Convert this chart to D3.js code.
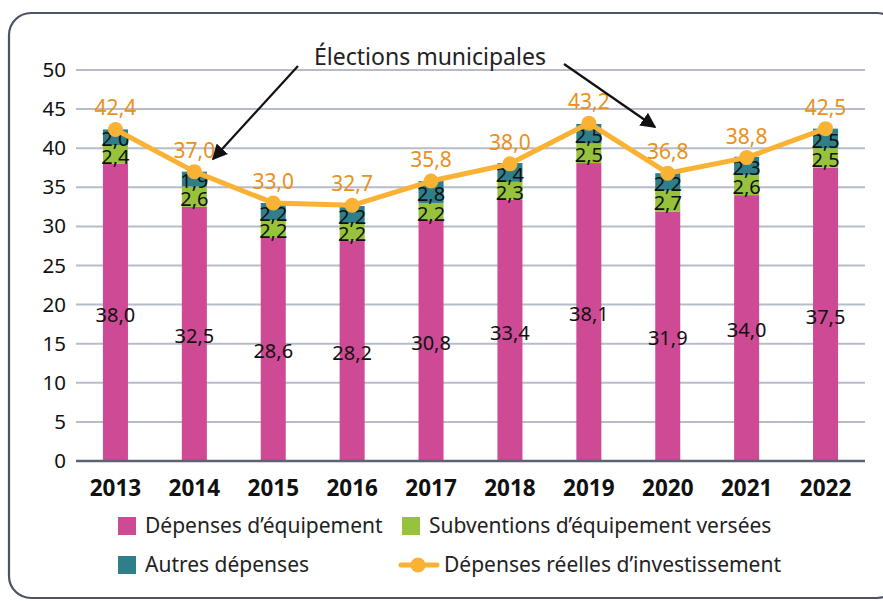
<!DOCTYPE html>
<html>
<head>
<meta charset="utf-8">
<script src="https://cdn.jsdelivr.net/npm/d3@7"></script>
<style>
  body { margin: 0; background: #fff; }
  svg text { font-family: "Noto Sans", "Open Sans", sans-serif; }
</style>
</head>
<body>
<div id="chart"></div>
<script>
'use strict';

var years = ['2013', '2014', '2015', '2016', '2017', '2018', '2019', '2020', '2021', '2022']
var equipement = [38.0, 32.5, 28.6, 28.2, 30.8, 33.4, 38.1, 31.9, 34.0, 37.5]
var subventions = [2.4, 2.6, 2.2, 2.2, 2.2, 2.3, 2.5, 2.7, 2.6, 2.5]
var autres = [2.0, 1.9, 2.2, 2.2, 2.8, 2.4, 2.5, 2.2, 2.3, 2.5]
var totals = [42.4, 37.0, 33.0, 32.7, 35.8, 38.0, 43.2, 36.8, 38.8, 42.5]
var yTicks = [0, 5, 10, 15, 20, 25, 30, 35, 40, 45, 50]
var seriesNames = ['Dépenses d’équipement', 'Subventions d’équipement versées', 'Autres dépenses', 'Dépenses réelles d’investissement']
var annotation = 'Élections municipales'

var colors = { equip: '#cf4a94', subv: '#97c23c', autres: '#2e7f8a', line: '#f9b233', total: '#ea901c' }

var W = 883, H = 601
var svg = d3.select('#chart').append('svg').attr('width', W).attr('height', H)

// frame
svg.append('rect')
  .attr('x', 9).attr('y', 13).attr('width', 890).attr('height', 585)
  .attr('rx', 22).attr('ry', 22)
  .style('fill', 'none').style('stroke', '#4b5462').style('stroke-width', 2.2)

var x = d3.scaleBand().domain(years).range([76, 865]).paddingInner(0.683).paddingOuter(0.3415)
var y = d3.scaleLinear().domain([0, 50]).range([461, 70])
var fmt = function(v) { return d3.format('.1f')(v).replace('.', ',') }

// grid
svg.append('g').selectAll('line')
  .data(yTicks.filter(function(d) { return d > 0 }))
  .enter().append('line')
  .attr('x1', 76).attr('x2', 865)
  .attr('y1', function(d) { return y(d) }).attr('y2', function(d) { return y(d) })
  .style('stroke', '#b7bcc9').style('stroke-width', 2)

var yAxis = svg.append('g')
  .attr('transform', 'translate(76,0)')
  .call(d3.axisLeft(y).tickValues(yTicks).tickSize(0).tickPadding(10))
yAxis.select('.domain').remove()
yAxis.selectAll('text').style('font-size', '20.5px').style('fill', '#111')

// stacked bars
var stacks = years.map(function(yr, i) {
  var a = equipement[i], b = a + subventions[i], c = b + autres[i]
  return [
    { i: i, y0: 0, y1: a, v: equipement[i], col: colors.equip },
    { i: i, y0: a, y1: b, v: subventions[i], col: colors.subv },
    { i: i, y0: b, y1: c, v: autres[i], col: colors.autres }
  ]
})
var segs = [].concat.apply([], stacks)

svg.append('g').selectAll('rect')
  .data(segs).enter().append('rect')
  .attr('x', function(d) { return x(years[d.i]) })
  .attr('width', x.bandwidth())
  .attr('y', function(d) { return y(d.y1) })
  .attr('height', function(d) { return y(d.y0) - y(d.y1) })
  .style('fill', function(d) { return d.col })

// x axis
var xAxis = svg.append('g')
  .attr('transform', 'translate(0,461)')
  .call(d3.axisBottom(x).tickSize(0).tickPadding(19))
xAxis.select('.domain').attr('d', 'M76,0H865').style('stroke', '#5b6372').style('stroke-width', 2.5)
xAxis.selectAll('text').style('font-size', '22.5px').style('font-weight', 'bold').style('fill', '#111')

// segment labels
svg.append('g').selectAll('text')
  .data(segs).enter().append('text')
  .attr('x', function(d) { return x(years[d.i]) + x.bandwidth() / 2 })
  .attr('y', function(d) { return (y(d.y0) + y(d.y1)) / 2 + 2 })
  .attr('dy', '0.36em')
  .attr('text-anchor', 'middle')
  .style('font-size', '20px').style('fill', '#111')
  .text(function(d) { return fmt(d.v) })

// total line
var cx = function(d, i) { return x(years[i]) + x.bandwidth() / 2 }
svg.append('path')
  .datum(totals)
  .attr('d', d3.line().x(cx).y(function(d) { return y(d) }))
  .style('fill', 'none').style('stroke', colors.line).style('stroke-width', 5).style('stroke-linejoin', 'round')

svg.append('g').selectAll('circle')
  .data(totals).enter().append('circle')
  .attr('cx', cx).attr('cy', function(d) { return y(d) })
  .attr('r', 7.5).style('fill', colors.line)

svg.append('g').selectAll('text')
  .data(totals).enter().append('text')
  .attr('x', cx).attr('y', function(d) { return y(d) - 14 })
  .attr('text-anchor', 'middle')
  .style('font-size', '21px').style('fill', colors.total)
  .text(function(d) { return fmt(d) })

// annotation
var defs = svg.append('defs')
defs.append('marker')
  .attr('id', 'arrow').attr('viewBox', '0 0 10 10')
  .attr('refX', 9).attr('refY', 5)
  .attr('markerWidth', 7).attr('markerHeight', 7)
  .attr('orient', 'auto')
  .append('path').attr('d', 'M0,0L10,5L0,10z').style('fill', '#111')

svg.append('text')
  .attr('x', 430).attr('y', 65)
  .attr('text-anchor', 'middle')
  .style('font-size', '23px').style('fill', '#222')
  .text(annotation)

svg.append('line')
  .attr('x1', 298).attr('y1', 66).attr('x2', 213).attr('y2', 159)
  .style('stroke', '#111').style('stroke-width', 2.2).attr('marker-end', 'url(#arrow)')
svg.append('line')
  .attr('x1', 564).attr('y1', 64).attr('x2', 655).attr('y2', 127)
  .style('stroke', '#111').style('stroke-width', 2.2).attr('marker-end', 'url(#arrow)')

// legend
var legend = [
  { name: seriesNames[0], col: colors.equip, type: 'rect', x: 118, y: 526 },
  { name: seriesNames[1], col: colors.subv, type: 'rect', x: 402, y: 526 },
  { name: seriesNames[2], col: colors.autres, type: 'rect', x: 118, y: 565 },
  { name: seriesNames[3], col: colors.line, type: 'line', x: 402, y: 565 }
]
var lg = svg.append('g').selectAll('g').data(legend).enter().append('g')
  .attr('transform', function(d) { return 'translate(' + d.x + ',' + d.y + ')' })
lg.filter(function(d) { return d.type === 'rect' }).append('rect')
  .attr('x', 0).attr('y', -9).attr('width', 18).attr('height', 18)
  .style('fill', function(d) { return d.col })
var ll = lg.filter(function(d) { return d.type === 'line' })
ll.append('line').attr('x1', -1).attr('x2', 35).attr('y1', 0).attr('y2', 0)
  .style('stroke', colors.line).style('stroke-width', 5).style('stroke-linecap', 'round')
ll.append('circle').attr('cx', 16).attr('cy', 0).attr('r', 7.5).style('fill', colors.line)
lg.append('text')
  .attr('x', function(d) { return d.type === 'line' ? 42 : 27 })
  .attr('dy', '0.35em')
  .style('font-size', '21px').style('fill', '#222')
  .text(function(d) { return d.name })
</script>
</body>
</html>
